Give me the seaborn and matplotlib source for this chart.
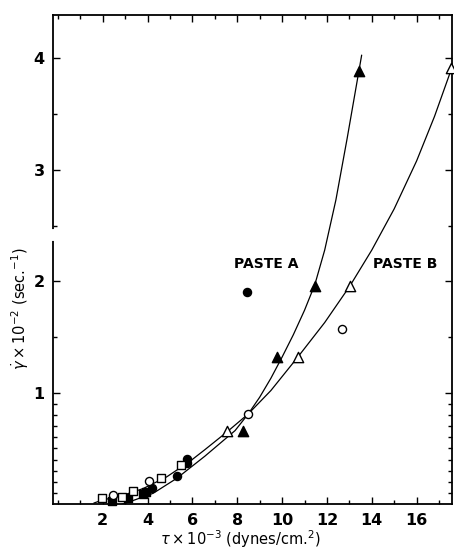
import numpy as np
import pandas as pd
import matplotlib
matplotlib.use("Agg")
import matplotlib.pyplot as plt
import seaborn as sns
from matplotlib.ticker import FixedLocator, NullFormatter

# ---- data ----
# Paste A (filled markers)
a_tri_x = [8.24, 9.77, 11.46, 13.43]
a_tri_y = [0.66, 1.32, 1.96, 3.89]
a_sq_x = [2.39, 3.13, 3.80, 3.95]
a_sq_y = [0.030, 0.053, 0.089, 0.112]
a_circ_x = [4.18, 5.32, 5.78, 5.78, 8.42]
a_circ_y = [0.142, 0.256, 0.367, 0.405, 1.90]
# Paste B (open markers)
b_tri_x = [7.55, 10.70, 13.03, 17.55]
b_tri_y = [0.66, 1.32, 1.96, 3.91]
b_circ_x = [2.44, 4.07, 8.49, 12.67]
b_circ_y = [0.083, 0.208, 0.81, 1.57]
b_sq_x = [1.95, 2.84, 3.33, 4.62, 5.47]
b_sq_y = [0.053, 0.068, 0.118, 0.232, 0.352]
# fitted curves (sampled along the drawn lines)
curve_a_x = [2.85, 3.2, 4.25, 5.3, 6.55, 7.9, 8.49, 9.0, 9.5, 10.0, 10.5, 11.0, 11.46, 11.9, 12.4, 12.9, 13.55]
curve_a_y = [0.0, 0.022, 0.098, 0.232, 0.43, 0.66, 0.81, 0.96, 1.13, 1.32, 1.52, 1.74, 1.97, 2.28, 2.73, 3.28, 4.03]
curve_b_x = [1.6, 1.95, 2.9, 3.8, 4.85, 5.89, 6.56, 7.55, 8.49, 9.5, 10.7, 11.9, 13.03, 14.0, 15.0, 16.0, 16.8, 17.58]
curve_b_y = [0.01, 0.035, 0.08, 0.14, 0.245, 0.385, 0.49, 0.65, 0.81, 1.02, 1.32, 1.63, 1.96, 2.28, 2.65, 3.08, 3.48, 3.92]

x_major = [2, 4, 6, 8, 10, 12, 14, 16]
y_major = [1, 2, 3, 4]
y_minor = [0.1, 0.2, 0.3, 0.4, 0.5, 0.6, 0.7, 0.8, 0.9, 1.5, 2.5, 3.5]
x_minor = list(range(0, 18))

sns.set_style("ticks")
plt.rcParams["font.family"] = ["DejaVu Sans"]
plt.rcParams["mathtext.fontset"] = "dejavusans"
plt.rcParams["text.color"] = "black"
plt.rcParams["axes.labelcolor"] = "black"
plt.rcParams["xtick.color"] = "black"
plt.rcParams["ytick.color"] = "black"

fig = plt.figure(figsize=(4.54, 5.49), dpi=100)
ax = fig.add_axes([53 / 454, 1 - 504.2 / 549, 399 / 454, (504.2 - 15) / 549])

lw_curve = 0.9
sns.lineplot(x=curve_a_x, y=curve_a_y, ax=ax, color="black", lw=lw_curve, sort=False, estimator=None)
sns.lineplot(x=curve_b_x, y=curve_b_y, ax=ax, color="black", lw=lw_curve, sort=False, estimator=None)

def pts(xs, ys, marker, filled, s):
    sns.scatterplot(x=xs, y=ys, ax=ax, marker=marker, s=s,
                    facecolor="black" if filled else "white",
                    edgecolor="black", linewidth=1.0, zorder=5, clip_on=False)

pts(a_tri_x, a_tri_y, "^", True, 55)
pts(a_sq_x, a_sq_y, "s", True, 36)
pts(a_circ_x, a_circ_y, "o", True, 34)
pts(b_tri_x, b_tri_y, "^", False, 55)
pts(b_circ_x, b_circ_y, "o", False, 34)
pts(b_sq_x, b_sq_y, "s", False, 40)

ax.set_xlim(-0.22, 17.58)
ax.set_ylim(0, 4.39)

ax.xaxis.set_major_locator(FixedLocator(x_major))
ax.xaxis.set_minor_locator(FixedLocator(x_minor))
ax.yaxis.set_major_locator(FixedLocator(y_major))
ax.yaxis.set_minor_locator(FixedLocator(y_minor))
ax.xaxis.set_minor_formatter(NullFormatter())
ax.yaxis.set_minor_formatter(NullFormatter())
ax.tick_params(which="both", direction="in", top=True, right=True, color="black", width=1.0)
ax.tick_params(which="major", length=5, pad=6, labelsize=11.5, labelcolor="black")
ax.tick_params(which="minor", length=3)
for lab in ax.get_xticklabels() + ax.get_yticklabels():
    lab.set_fontweight("bold")

for sp in ax.spines.values():
    sp.set_linewidth(1.3)
    sp.set_color("black")

# small break in the left axis
ax.plot([-0.22, -0.22], [2.38, 2.45], color="white", lw=3, clip_on=False, zorder=10)

ax.set_xlabel(r"$\tau\times10^{-3}$ (dynes/cm.$^{2}$)", fontsize=10.5, color="black")
ax.xaxis.set_label_coords(0.47, -0.049)
ax.set_ylabel(r"$\dot{\gamma}\times10^{-2}$ (sec.$^{-1}$)", fontsize=10.5, color="black")
ax.yaxis.set_label_coords(-0.054, 0.40)

ax.text(9.3, 2.16, "PASTE A", fontsize=10, fontweight="bold", ha="center", va="center", color="black")
ax.text(15.5, 2.16, "PASTE B", fontsize=10, fontweight="bold", ha="center", va="center", color="black")

fig.savefig("out.png", dpi=100)
